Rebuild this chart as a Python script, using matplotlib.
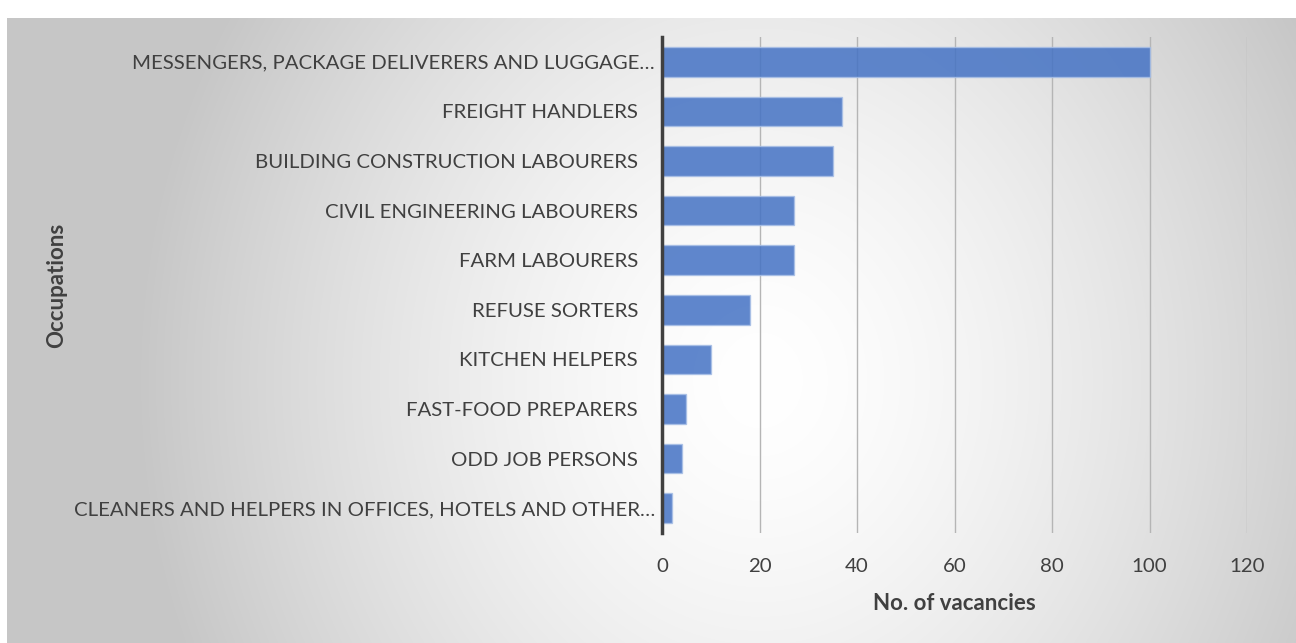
import matplotlib.pyplot as plt
import matplotlib.transforms as mtransforms
import numpy as np

plt.rcParams['font.family'] = ['Lato', 'DejaVu Sans']

occupations = [
    'MESSENGERS, PACKAGE DELIVERERS AND LUGGAGE…',
    'FREIGHT HANDLERS',
    'BUILDING CONSTRUCTION LABOURERS',
    'CIVIL ENGINEERING LABOURERS',
    'FARM LABOURERS',
    'REFUSE SORTERS',
    'KITCHEN HELPERS',
    'FAST-FOOD PREPARERS',
    'ODD JOB PERSONS',
    'CLEANERS AND HELPERS IN OFFICES, HOTELS AND OTHER…',
]
vacancies = [100, 37, 35, 27, 27, 18, 10, 5, 4, 2]
xticks = [0, 20, 40, 60, 80, 100, 120]

W, H = 1296, 643
fig = plt.figure(figsize=(W / 100, H / 100), dpi=100)
fig.patch.set_facecolor('white')

# radial grey-to-white background of the chart area
x0, y0 = 7, 18
bg = fig.add_axes([x0 / W, 0, 1 - x0 / W, (H - y0) / H], zorder=0)
gx, gy = np.meshgrid(np.arange(x0, W), np.arange(y0, H))
d = np.hypot((gx - 760) / 620, (gy - 380) / 700)
shade = 1 - 0.22 * np.clip(d, 0, 1) ** 1.5
bg.imshow(np.dstack([shade] * 3), aspect='auto', extent=[0, 1, 0, 1])
bg.axis('off')

ax = fig.add_axes([662 / W, 1 - 533 / H, (1247 - 662) / W, (533 - 37) / H], zorder=1)
ax.patch.set_alpha(0)

ypos = np.arange(len(occupations))
ax.barh(ypos, vacancies, height=0.6, color='#4472c4', alpha=0.85,
        edgecolor='#a8bfe6', linewidth=1, zorder=3)

ax.set_xlim(0, 120)
ax.set_ylim(len(occupations) - 0.5, -0.5)
ax.set_xticks(xticks)
ax.set_yticks(ypos)
ax.set_yticklabels(occupations)

ax.grid(axis='x', color='#b5b5b5', linewidth=1, zorder=0)
ax.grid(axis='y', visible=False)
for s in ['top', 'right', 'bottom']:
    ax.spines[s].set_visible(False)
ax.spines['left'].set_color('#404040')
ax.spines['left'].set_linewidth(2.5)
ax.spines['left'].set_zorder(4)

ax.tick_params(axis='both', length=0, labelsize=14.7, labelcolor='#404040')
ax.tick_params(axis='y', pad=5)
ax.tick_params(axis='x', pad=18)

# labels that are not truncated sit further from the axis
for lab in ax.get_yticklabels():
    if not lab.get_text().endswith('…'):
        lab.set_transform(lab.get_transform() +
                          mtransforms.ScaledTranslation(-17 / 100, 0, fig.dpi_scale_trans))

ax.set_xlabel('No. of vacancies', fontsize=16, fontweight='bold', color='#404040', labelpad=13)
fig.text(57 / W, 1 - 285 / H, 'Occupations', rotation=90, fontsize=16,
         fontweight='bold', color='#404040', ha='center', va='center')

fig.savefig('out.png', dpi=100)
